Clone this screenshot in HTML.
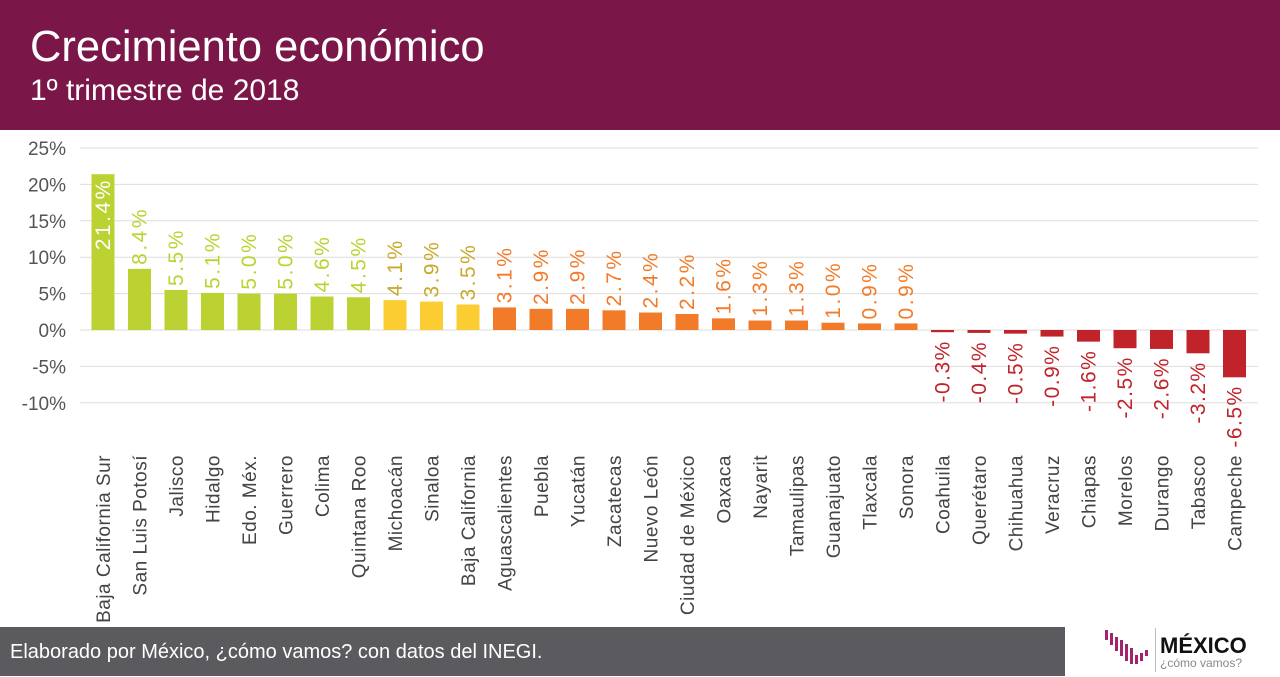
<!DOCTYPE html>
<html><head><meta charset="utf-8"><style>
body{margin:0;width:1280px;height:676px;overflow:hidden;background:#fff;font-family:"Liberation Sans",sans-serif}
#hdr{position:absolute;left:0;top:0;width:1280px;height:130px;background:#7B1648;color:#fff}
#t1{position:absolute;left:30px;top:23px;font-size:43.5px}
#t2{position:absolute;left:30px;top:74px;font-size:30px}
#ftr{position:absolute;left:0;top:627px;width:1065px;height:49px;background:#5b5a5e;color:#fff;font-size:20px;line-height:50px;padding-left:10px;box-sizing:border-box}
svg{position:absolute;left:0;top:0}
</style></head><body>
<div id="hdr"><div id="t1">Crecimiento económico</div><div id="t2">1º trimestre de 2018</div></div>
<svg id="s" width="1280" height="676"></svg>
<div id="ftr">Elaborado por México, ¿cómo vamos? con datos del INEGI.</div>
<svg width="1280" height="676" style="pointer-events:none">
<g fill="#a2246f">
<rect x="1105" y="630" width="3" height="10"/><rect x="1110" y="633" width="3" height="12"/><rect x="1115" y="637" width="3" height="14"/><rect x="1120" y="640" width="3" height="16"/><rect x="1125" y="644" width="3" height="17"/><rect x="1130" y="648" width="3" height="16"/><rect x="1135" y="655" width="3" height="9"/><rect x="1140" y="653" width="3" height="8"/><rect x="1145" y="650" width="3" height="6"/></g>
<rect x="1155" y="628" width="1" height="44" fill="#bbb"/>
<text x="1160" y="653" font-size="22" font-weight="bold" fill="#111">MÉXICO</text>
<text x="1160" y="667" font-size="12" fill="#888">¿cómo vamos?</text>
</svg>
<script>
var d=[["Baja California Sur",21.4],["San Luis Potosí",8.4],["Jalisco",5.5],["Hidalgo",5.1],["Edo. Méx.",5.0],["Guerrero",5.0],["Colima",4.6],["Quintana Roo",4.5],["Michoacán",4.1],["Sinaloa",3.9],["Baja California",3.5],["Aguascalientes",3.1],["Puebla",2.9],["Yucatán",2.9],["Zacatecas",2.7],["Nuevo León",2.4],["Ciudad de México",2.2],["Oaxaca",1.6],["Nayarit",1.3],["Tamaulipas",1.3],["Guanajuato",1.0],["Tlaxcala",0.9],["Sonora",0.9],["Coahuila",-0.3],["Querétaro",-0.4],["Chihuahua",-0.5],["Veracruz",-0.9],["Chiapas",-1.6],["Morelos",-2.5],["Durango",-2.6],["Tabasco",-3.2],["Campeche",-6.5]];
var s="",z=330,k=7.28;
for(var v=25;v>=-10;v-=5){var y=z-v*k;s+='<line x1="80" x2="1258" y1="'+y+'" y2="'+y+'" stroke="#ddd" stroke-width="1"/>';s+='<text x="66" y="'+(y+7)+'" font-size="19" fill="#555" text-anchor="end">'+v+'%</text>';}
d.forEach(function(e,i){var cx=103+i*36.5,v=e[1],c,lc;
if(i<8){c="#bcd232";lc="#bcd232";}else if(i<11){c="#fbcd33";lc="#c9a82c";}else if(v>0){c="#f27b29";lc="#f27b29";}else{c="#c1232b";lc="#c1232b";}
var top=v>0?z-v*k:z,h=Math.abs(v)*k;
s+='<rect x="'+(cx-11.5)+'" y="'+top+'" width="23" height="'+Math.max(h,1.5)+'" fill="'+c+'"/>';
var lab=v.toFixed(1)+'%',tx=cx+7,ty,anc,col=lc,ls=2.5;
if(i==0){ty=top+4;anc="end";col="#fff";}else if(v>0){ty=top-4;anc="start";}else{ty=z+h+8;anc="end";ls=1.5;}
s+='<text transform="translate('+tx+','+ty+') rotate(-90)" font-size="21" letter-spacing="'+ls+'" fill="'+col+'" text-anchor="'+anc+'">'+lab+'</text>';
s+='<text transform="translate('+tx+',455) rotate(-90)" font-size="19" letter-spacing="0.5" fill="#444" text-anchor="end">'+e[0]+'</text>';});
document.getElementById("s").innerHTML=s;
</script>
</body></html>
